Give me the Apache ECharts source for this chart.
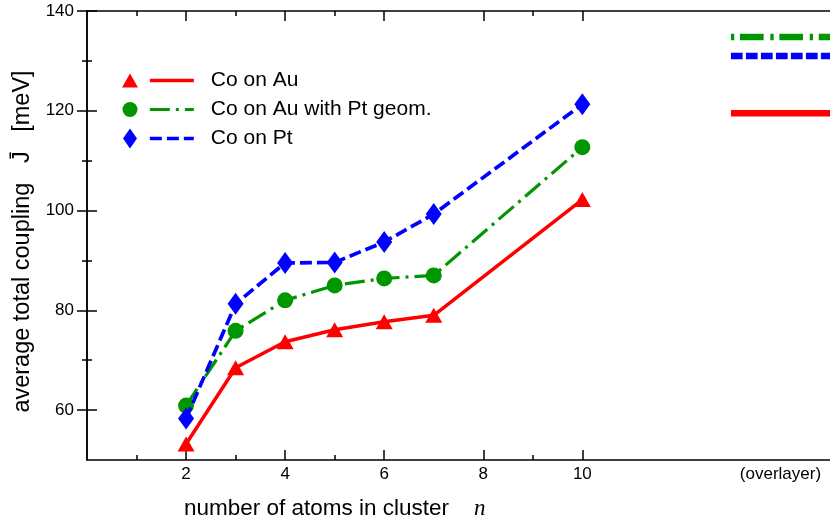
<!DOCTYPE html>
<html><head><meta charset="utf-8">
<script src="https://cdn.jsdelivr.net/npm/echarts@6/dist/echarts.min.js"></script>
<style>html,body{margin:0;padding:0;background:#fff}#c{width:830px;height:525px}</style>
</head><body><div id="c"></div>
<script>
// ---- data ----
const nAtoms = [2, 3, 4, 5, 6, 7, 10];
const coOnAu = [53.2, 68.5, 73.7, 76.1, 77.7, 79.0, 102.2];
const coOnAuPtGeom = [60.9, 75.9, 82.0, 85.0, 86.4, 87.0, 112.7];
const coOnPt = [58.3, 81.3, 89.5, 89.6, 93.7, 99.3, 121.3];
const seriesNames = ['Co on Au', 'Co on Au with Pt geom.', 'Co on Pt'];
const overlayerRange = [13, 15];
const overlayerValues = [119.5, 134.8, 131.0];
const overlayerLabel = '(overlayer)';
const overlayerLabelAt = 14;
const xMajorTicks = [2, 4, 6, 8, 10];
const xMinorTicks = [1, 3, 5, 9];
const yMajorTicks = [60, 80, 100, 120, 140];
const yMinorTicks = [70, 90, 110, 130];

// ---- styles ----
const colors = ['#ff0000', '#009600', '#0000ff'];
const symbols = ['triangle', 'circle', 'diamond'];
const symbolSizes = [[17, 15], 16, [16, 22]];
const legendSymbolSizes = [[16, 14], [15, 15], [14, 20]];
const lineTypes = ['solid', [20, 6, 3, 6], [12, 5]];
const lineWidths = [3.5, 3.2, 3.7];
const overlayerTypes = ['solid', [3.3, 5.7, 23.7, 6.7], [11.7, 3.3]];
const F = 'Liberation Sans, Arial, Helvetica, sans-serif';

const series = [];
const allData = [coOnAu, coOnAuPtGeom, coOnPt];
allData.forEach((vals, i) => {
  series.push({
    type: 'line', name: seriesNames[i], xAxisIndex: 0, yAxisIndex: 0,
    data: nAtoms.map((n, k) => [n, vals[k]]),
    symbol: symbols[i], symbolSize: symbolSizes[i], showSymbol: true,
    itemStyle: { color: colors[i], borderWidth: 0 },
    lineStyle: { color: colors[i], width: lineWidths[i], type: lineTypes[i], cap: 'butt' },
    z: 3 + i
  });
});
overlayerValues.forEach((v, i) => {
  series.push({
    type: 'line', name: seriesNames[i] + ' (overlayer)', xAxisIndex: 0, yAxisIndex: 0,
    data: overlayerRange.map(x => [x, v]),
    symbol: 'none', silent: true,
    lineStyle: { color: colors[i], width: 6.5, type: overlayerTypes[i], cap: 'butt' },
    z: 3
  });
});

const axisLineStyle = { show: true, lineStyle: { color: '#000', width: 1.5 } };
function xAx(pos, ticks, len, withLine, withLabels) {
  return {
    type: 'value', position: pos, min: 0, max: 15, interval: 1,
    axisLine: withLine ? axisLineStyle : { show: false },
    axisTick: { show: true, inside: true, length: len, customValues: ticks, lineStyle: { color: '#000', width: 1.5 } },
    axisLabel: withLabels ? {
      show: true, customValues: xMajorTicks.concat([overlayerLabelAt]),
      formatter: v => (v === overlayerLabelAt ? overlayerLabel : String(v)),
      color: '#000', fontSize: 17, fontFamily: F, margin: 6
    } : { show: false },
    splitLine: { show: false }
  };
}
function yAx(pos, ticks, len, withLine, withLabels) {
  const a = {
    type: 'value', position: pos, min: 50, max: 140, interval: 10,
    axisLine: withLine ? axisLineStyle : { show: false },
    axisTick: { show: true, inside: true, length: len, customValues: ticks, lineStyle: { color: '#000', width: 1.5 } },
    axisLabel: withLabels ? { show: true, customValues: yMajorTicks, color: '#000', fontSize: 17, fontFamily: F, margin: 13 } : { show: false },
    splitLine: { show: false }
  };
  if (withLabels) {
    a.name = 'average total coupling   J\u0304   [meV]';
    a.nameLocation = 'middle';
    a.nameGap = 50;
    a.nameTextStyle = { color: '#000', fontSize: 23.5, fontFamily: F, padding: [0, 12, 0, 0] };
  }
  return a;
}

const legendRowTops = [66, 95, 124];
const symbolLegends = seriesNames.map((n, i) => ({
  data: [{ name: n, icon: symbols[i] }],
  orient: 'vertical', left: 130 - legendSymbolSizes[i][0] / 2, top: legendRowTops[i], padding: 0,
  itemWidth: legendSymbolSizes[i][0], itemHeight: legendSymbolSizes[i][1], itemGap: 0,
  formatter: () => ' ',
  textStyle: { fontSize: 21, lineHeight: 29, fontFamily: F },
  selectedMode: false
}));

const option = {
  animation: false,
  backgroundColor: '#fff',
  grid: { left: 87, right: -5, top: 11, bottom: 65, containLabel: false },
  title: {
    text: '{a|number of atoms in cluster    }{n|n}',
    left: 184, top: 497, padding: 0,
    textStyle: {
      fontWeight: 'normal',
      rich: {
        a: { fontSize: 22.5, fontFamily: F, fontWeight: 'normal', color: '#000', lineHeight: 24 },
        n: { fontSize: 23, fontFamily: 'Liberation Serif, Times New Roman, serif', fontStyle: 'italic', fontWeight: 'normal', color: '#000', lineHeight: 24 }
      }
    }
  },
  legend: symbolLegends.concat([
    {
      data: seriesNames.slice(),
      orient: 'vertical', left: 148, top: 66, padding: 0, itemWidth: 44, itemHeight: 16, itemGap: 0,
      itemStyle: { opacity: 0 },
      lineStyle: { width: 'inherit' },
      textStyle: { fontSize: 21, lineHeight: 29, fontFamily: F, color: '#000', padding: [0, 0, 0, 12] },
      selectedMode: false
    }
  ]),
  xAxis: [
    xAx('bottom', xMajorTicks, 10, true, true),
    xAx('bottom', xMinorTicks, 5, false, false),
    xAx('top', xMajorTicks, 10, true, false),
    xAx('top', xMinorTicks, 5, false, false)
  ],
  yAxis: [
    yAx('left', yMajorTicks, 10, true, true),
    yAx('left', yMinorTicks, 5, false, false),
    yAx('right', yMajorTicks, 10, true, false),
    yAx('right', yMinorTicks, 5, false, false)
  ],
  series: series
};
const chart = echarts.init(document.getElementById('c'), null, { renderer: 'canvas' });
chart.setOption(option);
</script>
</body></html>
